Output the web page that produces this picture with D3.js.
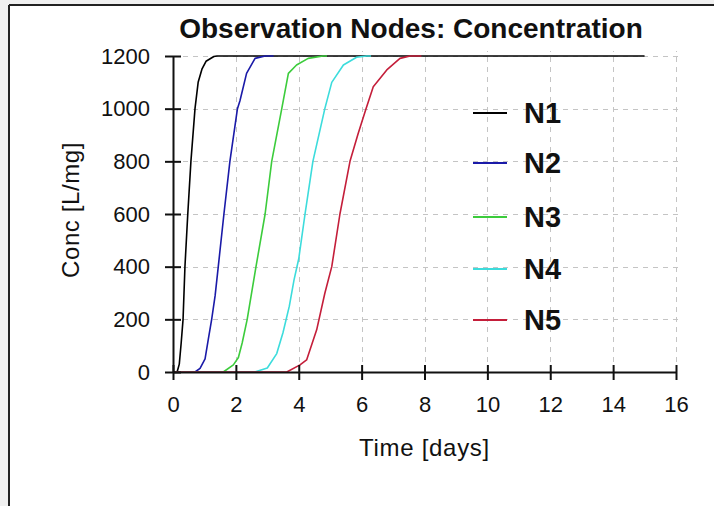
<!DOCTYPE html>
<html>
<head>
<meta charset="utf-8">
<script src="https://cdn.jsdelivr.net/npm/d3@7"></script>
<style>
  html, body { margin: 0; padding: 0; background: #f0f0f0; }
  svg { display: block; }
  text { font-family: "Liberation Sans", Arial, sans-serif; fill: #111; }
</style>
</head>
<body>
<svg id="chart" width="714" height="506"></svg>
<script>
// Observation node concentration breakthrough curves
const nodeNames = ["N1", "N2", "N3", "N4", "N5"];
const nodeColors = ["#000000", "#1a1aa8", "#3ccc3c", "#3cdcdc", "#c41e3a"];

const n1Time = [0, 0.13, 0.2, 0.26, 0.32, 0.38, 0.47, 0.57, 0.70, 0.80, 0.92, 1.05, 1.3, 1.4, 15];
const n1Conc = [0, 0, 30, 110, 200, 400, 600, 800, 1000, 1100, 1150, 1180, 1198, 1200, 1200];

const n2Time = [0, 0.70, 0.86, 1.02, 1.12, 1.23, 1.34, 1.44, 1.62, 1.81, 2.05, 2.13, 2.34, 2.61, 2.93, 3.2];
const n2Conc = [0, 0, 14, 50, 122, 200, 290, 400, 600, 800, 1000, 1030, 1134, 1191, 1200, 1200];

const n3Time = [0, 1.6, 1.92, 2.08, 2.2, 2.36, 2.64, 2.93, 3.14, 3.46, 3.67, 3.93, 4.3, 4.77, 4.9];
const n3Conc = [0, 0, 27, 55, 110, 200, 400, 600, 800, 1000, 1134, 1166, 1191, 1200, 1200];

const n4Time = [0, 2.6, 3.0, 3.3, 3.5, 3.7, 3.85, 4.0, 4.2, 4.45, 4.83, 5.05, 5.42, 5.84, 6.16, 6.3];
const n4Conc = [0, 0, 15, 70, 150, 250, 350, 430, 600, 800, 1000, 1100, 1166, 1195, 1200, 1200];

const n5Time = [0, 3.62, 4.04, 4.25, 4.57, 4.83, 5.05, 5.31, 5.63, 5.89, 6.14, 6.37, 6.8, 7.22, 7.54, 7.9];
const n5Conc = [0, 0, 27, 46, 160, 299, 400, 600, 800, 906, 1000, 1083, 1147, 1191, 1200, 1200];

const xTicks = [0, 2, 4, 6, 8, 10, 12, 14, 16];
const yTicks = [0, 200, 400, 600, 800, 1000, 1200];

const titleText = "Observation Nodes: Concentration";
const xLabel = "Time [days]";
const yLabel = "Conc [L/mg]";

const series = [
  { name: nodeNames[0], color: nodeColors[0], t: n1Time, c: n1Conc },
  { name: nodeNames[1], color: nodeColors[1], t: n2Time, c: n2Conc },
  { name: nodeNames[2], color: nodeColors[2], t: n3Time, c: n3Conc },
  { name: nodeNames[3], color: nodeColors[3], t: n4Time, c: n4Conc },
  { name: nodeNames[4], color: nodeColors[4], t: n5Time, c: n5Conc }
];

const svg = d3.select("#chart");

// panel with a dark frame on the top and left edges
svg.append("rect").attr("x", 9).attr("y", 5).attr("width", 714 - 9).attr("height", 506 - 5).attr("fill", "#ffffff");
svg.append("line").attr("x1", 9).attr("x2", 714).attr("y1", 5).attr("y2", 5).attr("stroke", "#222").attr("stroke-width", 2);
svg.append("line").attr("x1", 9).attr("x2", 9).attr("y1", 5).attr("y2", 506).attr("stroke", "#222").attr("stroke-width", 2);

const x = d3.scaleLinear().domain([0, 16]).range([173, 676]);
const y = d3.scaleLinear().domain([0, 1200]).range([372, 56]);

// dashed grid
const grid = svg.append("g").attr("stroke", "#c4c4c4").attr("stroke-width", 1).attr("stroke-dasharray", "5,5");
grid.selectAll("line.h").data(yTicks.filter(d => d > 0)).join("line")
  .attr("x1", x(0)).attr("x2", x(16) + 4)
  .attr("y1", d => Math.round(y(d)) + 0.5).attr("y2", d => Math.round(y(d)) + 0.5);
grid.selectAll("line.v").data(xTicks.filter(d => d > 0)).join("line")
  .attr("y1", y(0)).attr("y2", y(1200) - 5)
  .attr("x1", d => Math.round(x(d)) + 0.5).attr("x2", d => Math.round(x(d)) + 0.5);

// curves
const line = d3.line().x(d => x(d[0])).y(d => y(d[1]));
svg.append("g").selectAll("path").data(series).join("path")
  .attr("d", s => line(s.t.map((t, i) => [t, s.c[i]])))
  .attr("fill", "none")
  .attr("stroke", s => s.color)
  .attr("stroke-width", 1.6)
  .attr("stroke-linejoin", "round");

// axes with ticks crossing the axis line
const xAxis = svg.append("g").attr("transform", `translate(0,${y(0)})`)
  .call(d3.axisBottom(x).tickValues(xTicks).tickSize(8).tickSizeOuter(0).tickPadding(16).tickFormat(d3.format("d")));
xAxis.selectAll(".tick line").attr("y1", -7).attr("stroke", "#111").attr("stroke-width", 2);
xAxis.select(".domain").attr("stroke", "#111").attr("stroke-width", 2);
xAxis.selectAll(".tick text").attr("font-size", 22).attr("font-family", "Liberation Sans, Arial, sans-serif").attr("fill", "#222");

const yAxis = svg.append("g").attr("transform", `translate(${x(0)},0)`)
  .call(d3.axisLeft(y).tickValues(yTicks).tickSize(8).tickSizeOuter(0).tickPadding(15).tickFormat(d3.format("d")));
yAxis.selectAll(".tick line").attr("x1", 8).attr("stroke", "#111").attr("stroke-width", 2);
yAxis.select(".domain").attr("stroke", "#111").attr("stroke-width", 2);
yAxis.selectAll(".tick text").attr("font-size", 22).attr("font-family", "Liberation Sans, Arial, sans-serif").attr("fill", "#222");

// titles
svg.append("text").attr("x", 411).attr("y", 38).attr("text-anchor", "middle")
  .attr("font-size", 28).attr("font-weight", "bold").text(titleText);
svg.append("text").attr("x", x(8)).attr("y", 456).attr("text-anchor", "middle")
  .attr("font-size", 24).attr("letter-spacing", 0.7).attr("fill", "#222").text(xLabel);
svg.append("text").attr("transform", `translate(79,${y(600) - 4}) rotate(-90)`).attr("text-anchor", "middle")
  .attr("font-size", 24).attr("letter-spacing", 0.6).attr("fill", "#222").text(yLabel);

// legend
const legendY = [113, 163, 217, 269, 320];
const legend = svg.append("g").selectAll("g").data(series).join("g")
  .attr("transform", (s, i) => `translate(473,${legendY[i]})`);
legend.append("line").attr("x1", 0).attr("x2", 34).attr("y1", 0).attr("y2", 0)
  .attr("stroke", s => s.color).attr("stroke-width", 2);
legend.append("text").attr("x", 51).attr("y", 10).attr("font-size", 29).attr("font-weight", "bold")
  .text(s => s.name);
</script>
</body>
</html>
